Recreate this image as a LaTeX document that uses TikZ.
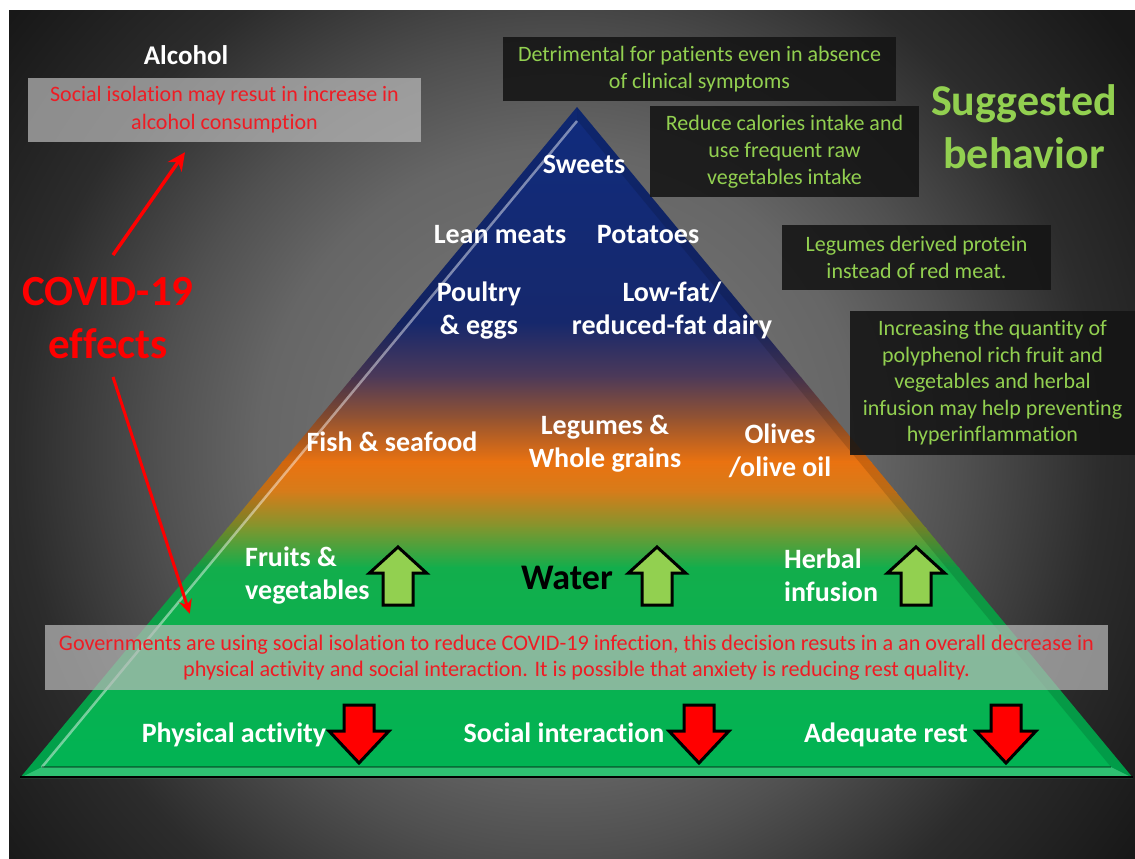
\documentclass[tikz,border=0pt]{standalone}
\usepackage{fontspec}
\setmainfont{Carlito}[Ligatures=NoCommon]
\usetikzlibrary{arrows.meta,calc}
\definecolor{sgreen}{RGB}{146,208,80}
\definecolor{tred}{RGB}{238,28,36}
\definecolor{cred}{RGB}{255,0,0}
\definecolor{bg0}{RGB}{125,125,125}
\definecolor{bg1}{RGB}{102,102,102}
\definecolor{bg2}{RGB}{80,80,80}
\definecolor{bg3}{RGB}{44,44,44}
\definecolor{bg4}{RGB}{24,24,24}
\definecolor{pnavy}{RGB}{16,44,126}
\definecolor{pblue}{RGB}{22,40,108}
\definecolor{ppurp}{RGB}{78,58,88}
\definecolor{pbrown}{RGB}{150,84,48}
\definecolor{porng}{RGB}{234,114,16}
\definecolor{porng2}{RGB}{214,124,26}
\definecolor{polive}{RGB}{128,150,46}
\definecolor{pgrn}{RGB}{18,174,76}
\definecolor{pgrn2}{RGB}{0,180,84}
\definecolor{boxdark}{RGB}{20,20,20}
\definecolor{boxgrey}{RGB}{188,188,188}
\definecolor{baseline}{RGB}{70,225,120}
\pgfdeclareradialshading{bgshade}{\pgfpoint{0bp}{0bp}}{color(0bp)=(bg0); color(9.9bp)=(bg1); color(13.2bp)=(bg2); color(17.8bp)=(bg3); color(23bp)=(bg4); color(50bp)=(bg4)}
\begin{document}
\begin{tikzpicture}[x=1pt,y=-1pt,
  pyr/.style={text=white, font=\bfseries\fontsize{28}{33}\selectfont, align=center, inner sep=0pt},
  darkbox/.style={fill=boxdark, fill opacity=0.88, text opacity=1, text=sgreen, font=\fontsize{22}{27}\selectfont, align=center, inner sep=0pt},
  greybox/.style={fill=boxgrey, fill opacity=0.7, text opacity=1, text=tred, font=\fontsize{22}{28}\selectfont, align=center, inner sep=0pt},
  bigred/.style={text=cred, font=\bfseries\fontsize{43}{53}\selectfont, align=center, inner sep=0pt},
  redarrow/.style={draw=cred, line width=3.5pt, -{Stealth[length=18pt,width=17pt]}},
  redarrowsmall/.style={draw=cred, line width=3pt, -{Stealth[length=14pt,width=13pt]}},
  uparr/.pic={\draw[fill=sgreen, draw=black, line width=3pt, line join=miter] (0,0) -- (28.5,26) -- (15,26) -- (15,58) -- (-15,58) -- (-15,26) -- (-28.5,26) -- cycle;},
  downarr/.pic={\draw[fill=red, draw=black, line width=3pt, line join=miter] (-15,0) -- (15,0) -- (15,26) -- (30,26) -- (0,58) -- (-30,26) -- (-15,26) -- cycle;}
]
\useasboundingbox (0,0) rectangle (1135,859);
\fill[white] (0,0) rectangle (1135,859);
% background
\begin{scope}
\clip (9,11) rectangle (1135,859);
\fill[bg4] (9,11) rectangle (1135,859);
\shade[shading=bgshade] (560,450) circle (760);
\end{scope}
% pyramid
\begin{scope}
\clip (577,107) -- (1133,778) -- (20,778) -- cycle;
\shade[top color=pnavy, bottom color=pblue] (0,100) rectangle (1135,323);
\shade[top color=pblue, bottom color=ppurp] (0,322) rectangle (1135,378);
\shade[top color=ppurp, bottom color=pbrown] (0,377) rectangle (1135,420);
\shade[top color=pbrown, bottom color=porng] (0,419) rectangle (1135,462);
\shade[top color=porng, bottom color=porng2] (0,461) rectangle (1135,492);
\shade[top color=porng2, bottom color=polive] (0,491) rectangle (1135,528);
\shade[top color=polive, bottom color=pgrn] (0,527) rectangle (1135,568);
\shade[top color=pgrn, bottom color=pgrn2] (0,567) rectangle (1135,780);
\end{scope}
% bevels
\fill[black, opacity=0.1] (577,107) -- (20,778) -- (42,767) -- (577,120) -- cycle;
\fill[black, opacity=0.13] (577,107) -- (1133,778) -- (1111,767) -- (577,120) -- cycle;
\fill[white, opacity=0.18] (20,778) -- (1133,778) -- (1111,767) -- (42,767) -- cycle;
\draw[white, opacity=0.45, line width=2.5pt] (42,767) -- (577,121);
\draw[black, opacity=0.35, line width=2pt] (42,767) -- (1111,767);
\draw[baseline, line width=2pt] (20,777) -- (1133,777);

% pyramid labels
\node[pyr, anchor=base] (sweets) at (584,173) {Sweets};
\node[pyr, anchor=base] (lean) at (500,243) {Lean meats};
\node[pyr, anchor=base] (potatoes) at (648,243) {Potatoes};
\node[pyr] (poultry) at (479,311) {Poultry\\\& eggs};
\node[pyr] (lowfat) at (672,310) {Low-fat/\\reduced-fat dairy};
\node[pyr, anchor=base] (fish) at (392,451) {Fish \& seafood};
\node[pyr] (legumes) at (605,444) {Legumes \&\\Whole grains};
\node[pyr] (olives) at (780,451) {Olives\\/olive oil};
\node[pyr, align=left, anchor=west] (fruits) at (245,576) {Fruits \&\\vegetables};
\node[pyr, text=black, font=\bfseries\fontsize{36}{42}\selectfont, anchor=base] (water) at (567,589) {Water};
\node[pyr, align=left, anchor=west] (herbal) at (784,575) {Herbal\\infusion};
\pic at (398,547) {uparr};
\pic at (657,547) {uparr};
\pic at (916,547) {uparr};

% boxes
\node[darkbox, minimum width=393pt, minimum height=64pt] (detr) at (699.5,69) {Detrimental for patients even in absence\\of clinical symptoms};
\node[darkbox, minimum width=269pt, minimum height=91pt] (reduce) at (784.5,151.5) {Reduce calories intake and\\use frequent raw\\vegetables intake};
\node[darkbox, minimum width=269pt, minimum height=65pt] (legbox) at (916.5,257.5) {Legumes derived protein\\instead of red meat.};
\node[darkbox, minimum width=285pt, minimum height=144pt, font=\fontsize{22}{26.5}\selectfont] (poly) at (992.5,383) {Increasing the quantity of\\polyphenol rich fruit and\\vegetables and herbal\\infusion may help preventing\\hyperinflammation};
\node[text=sgreen, font=\bfseries\fontsize{44}{53}\selectfont, align=center, inner sep=0pt] (sugg) at (1024,127) {Suggested\\behavior};

\node[text=white, font=\bfseries\fontsize{27}{32}\selectfont, inner sep=0pt] (alcohol) at (186,55) {Alcohol};
\node[greybox, minimum width=393pt, minimum height=64pt] (alcbox) at (224.5,110) {Social isolation may resut in increase in\\alcohol consumption};
\node[bigred] (covid) at (108,318) {COVID-19\\effects};
\node[greybox, minimum width=1063pt, minimum height=65pt, font=\fontsize{22.2}{26.5}\selectfont] (govbox) at (576.5,657.5) {Governments are using social isolation to reduce COVID-19 infection, this decision resuts in a an overall decrease in\\physical activity and social interaction. It is possible that anxiety is reducing rest quality.};

\draw[redarrow] ([shift={(5pt,22pt)}]covid.north) -- ([shift={(-39.5pt,-10pt)}]alcbox.south);
\draw[redarrowsmall] ([shift={(5pt,-18pt)}]covid.south) -- ([shift={(145pt,11pt)}]govbox.north west);

% bottom labels
\node[pyr, anchor=base] (physical) at (234,742) {Physical activity};
\node[pyr, anchor=base] (social) at (564,742) {Social interaction};
\node[pyr, anchor=base] (rest) at (886,742) {Adequate rest};
\pic at (359,705) {downarr};
\pic at (699,705) {downarr};
\pic at (1006,705) {downarr};
\end{tikzpicture}
\end{document}
